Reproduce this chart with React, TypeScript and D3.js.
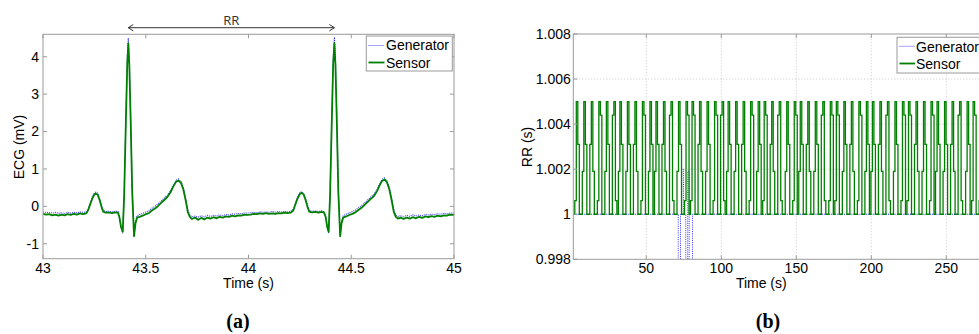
import React from "react";
import * as d3 from "d3";

// ---------- (a) ECG data ----------
const ecgTime = [
  43.000, 43.015, 43.030, 43.045, 43.060, 43.075, 43.090, 43.105, 43.120, 43.135, 43.150, 43.165, 43.180, 43.195, 43.210,
  43.220, 43.230, 43.240, 43.250, 43.258, 43.266, 43.275, 43.285, 43.293,
  43.305, 43.320, 43.335, 43.350, 43.365, 43.372, 43.380, 43.388,
  43.395, 43.403, 43.410, 43.415, 43.420, 43.427, 43.434, 43.443, 43.450, 43.458,
  43.470, 43.485, 43.500, 43.515, 43.530, 43.545, 43.560, 43.575, 43.590, 43.605, 43.620, 43.635, 43.648, 43.660, 43.672, 43.683, 43.695, 43.705, 43.715, 43.725,
  43.740, 43.755, 43.770, 43.785, 43.800, 43.815, 43.830, 43.845, 43.860, 43.875, 43.890, 43.905, 43.920, 43.935, 43.950, 43.965, 43.980, 43.995,
  44.010, 44.025, 44.040, 44.055, 44.070, 44.085, 44.100, 44.115, 44.130, 44.145, 44.160, 44.175, 44.190, 44.205,
  44.218, 44.228, 44.238, 44.250, 44.259, 44.268, 44.278, 44.287, 44.295,
  44.310, 44.325, 44.340, 44.355, 44.368, 44.376, 44.383, 44.390,
  44.397, 44.405, 44.412, 44.418, 44.423, 44.430, 44.437, 44.446, 44.453, 44.461,
  44.475, 44.490, 44.505, 44.520, 44.535, 44.550, 44.565, 44.580, 44.595, 44.610, 44.625, 44.638, 44.650, 44.662, 44.674, 44.685, 44.697, 44.707, 44.717, 44.727,
  44.740, 44.755, 44.770, 44.785, 44.800, 44.815, 44.830, 44.845, 44.860, 44.875, 44.890, 44.905, 44.920, 44.935, 44.950, 44.965, 44.980, 45.000,
];

const ecgSensor = [
  -0.20, -0.22, -0.21, -0.24, -0.22, -0.25, -0.22, -0.24, -0.21, -0.23, -0.20, -0.22, -0.19, -0.21, -0.19,
  -0.10, 0.06, 0.21, 0.32, 0.34, 0.31, 0.18, -0.02, -0.14,
  -0.17, -0.16, -0.18, -0.16, -0.17, -0.30, -0.56, -0.68,
  0.30, 2.20, 3.80, 4.36, 3.80, 2.20, 0.40, -0.80, -0.46, -0.30,
  -0.28, -0.25, -0.21, -0.18, -0.11, -0.06, 0.01, 0.09, 0.17, 0.25, 0.37, 0.54, 0.66, 0.69, 0.62, 0.45, 0.14, -0.16, -0.28, -0.34,
  -0.30, -0.36, -0.31, -0.35, -0.30, -0.33, -0.29, -0.32, -0.28, -0.30, -0.27, -0.28, -0.25, -0.27, -0.24, -0.25, -0.22, -0.23,
  -0.22, -0.20, -0.21, -0.19, -0.20, -0.18, -0.20, -0.19, -0.20, -0.18, -0.19, -0.17, -0.18, -0.17,
  -0.11, 0.05, 0.20, 0.33, 0.36, 0.32, 0.17, -0.01, -0.14,
  -0.16, -0.15, -0.17, -0.15, -0.17, -0.30, -0.55, -0.68,
  0.30, 2.20, 3.80, 4.36, 3.80, 2.20, 0.40, -0.80, -0.45, -0.30,
  -0.27, -0.23, -0.20, -0.16, -0.10, -0.04, 0.04, 0.12, 0.20, 0.27, 0.40, 0.56, 0.68, 0.72, 0.64, 0.46, 0.15, -0.15, -0.28, -0.33,
  -0.30, -0.34, -0.30, -0.33, -0.29, -0.32, -0.28, -0.31, -0.27, -0.29, -0.26, -0.28, -0.25, -0.27, -0.24, -0.25, -0.22, -0.23,
];

const ecgGenerator = [
  -0.15, -0.16, -0.17, -0.18, -0.16, -0.19, -0.17, -0.19, -0.16, -0.18, -0.16, -0.17, -0.15, -0.16, -0.15,
  -0.08, 0.09, 0.25, 0.36, 0.38, 0.35, 0.22, 0.02, -0.11,
  -0.14, -0.13, -0.15, -0.13, -0.14, -0.28, -0.55, -0.72,
  0.35, 2.30, 3.95, 4.50, 3.95, 2.30, 0.45, -0.78, -0.42, -0.25,
  -0.22, -0.19, -0.15, -0.12, -0.05, 0.00, 0.07, 0.14, 0.22, 0.30, 0.42, 0.58, 0.70, 0.73, 0.66, 0.50, 0.20, -0.10, -0.24, -0.28,
  -0.26, -0.29, -0.25, -0.28, -0.24, -0.27, -0.24, -0.26, -0.23, -0.25, -0.22, -0.23, -0.20, -0.21, -0.19, -0.20, -0.18, -0.18,
  -0.17, -0.16, -0.17, -0.15, -0.16, -0.15, -0.16, -0.14, -0.16, -0.14, -0.15, -0.14, -0.15, -0.14,
  -0.08, 0.08, 0.24, 0.37, 0.39, 0.35, 0.21, 0.03, -0.11,
  -0.13, -0.12, -0.14, -0.12, -0.14, -0.28, -0.56, -0.72,
  0.35, 2.30, 3.95, 4.52, 3.95, 2.30, 0.45, -0.77, -0.41, -0.25,
  -0.21, -0.17, -0.14, -0.10, -0.04, 0.02, 0.09, 0.17, 0.25, 0.32, 0.45, 0.60, 0.72, 0.76, 0.68, 0.51, 0.21, -0.09, -0.23, -0.27,
  -0.25, -0.28, -0.24, -0.27, -0.23, -0.26, -0.23, -0.25, -0.22, -0.23, -0.21, -0.22, -0.20, -0.21, -0.19, -0.20, -0.18, -0.18,
];

const ecgXTicks = [43, 43.5, 44, 44.5, 45];
const ecgXTickLabels = ["43", "43.5", "44", "44.5", "45"];
const ecgYTicks = [-1, 0, 1, 2, 3, 4];
const rrAnnotation = [43.415, 44.418];

// ---------- (b) RR data ----------
const rrStart = 1.33;
const sensorRR = [
  1, 1.0006, 1.005, 1.0031,
  1, 1, 1.0019, 1.005, 1.0031,
  1, 1, 1.0031, 1.005, 1.0019,
  1, 1, 1.0006, 1.005, 1.0044,
  1, 1, 1.0019, 1.005, 1.0031,
  1, 1, 1.0044, 1.005, 1.0006,
  1, 1.0019, 1.005, 1.0031,
  1, 1, 1.0019, 1.005, 1.0031,
  1, 1, 1.0031, 1.005, 1.0019,
  1, 1, 1.0006, 1.005, 1.0044,
  1, 1, 1.0019, 1.005, 1.0031,
  1, 1.0019, 1.005, 1.0031,
  1, 1, 1.0031, 1.005, 1.0019,
  1, 1, 1.0044, 1.005, 1.0006,
  1, 1, 1.0019, 1.005, 1.0031,
  1, 1, 1.0006, 1.005, 1.0044,
  1, 1.0006, 1.005, 1.0044,
  1, 1, 1.0031, 1.005, 1.0019,
  1, 1, 1.0019, 1.005, 1.0031,
  1, 1, 1.0006, 1.005, 1.0044,
  1, 1, 1.0044, 1.005, 1.0006,
  1, 1.0019, 1.005, 1.0031,
  1, 1, 1.0019, 1.005, 1.0031,
  1, 1, 1.0031, 1.005, 1.0019,
  1, 1, 1.0006, 1.005, 1.0044,
  1, 1, 1.0019, 1.005, 1.0031,
  1, 1.0006, 1.005, 1.0044,
  1, 1, 1.0031, 1.005, 1.0019,
  1, 1, 1.0044, 1.005, 1.0006,
  1, 1, 1.0019, 1.005, 1.0031,
  1, 1, 1.0006, 1.005, 1.0044,
  1, 1.0019, 1.005, 1.0031,
  1, 1, 1.0031, 1.005, 1.0019,
  1, 1, 1.0019, 1.005, 1.0031,
  1, 1, 1.0044, 1.005, 1.0006,
  1, 1, 1.0006, 1.005, 1.0044,
  1, 1.0006, 1.005, 1.0044,
  1, 1, 1.0019, 1.005, 1.0031,
  1, 1, 1.0031, 1.005, 1.0019,
  1, 1, 1.0006, 1.005, 1.0044,
  1, 1, 1.0019, 1.005, 1.0031,
  1, 1.0019, 1.005, 1.0031,
  1, 1, 1.0031, 1.005, 1.0019,
  1, 1, 1.0044, 1.005, 1.0006,
  1, 1, 1.0019, 1.005, 1.0031,
  1, 1, 1.0006, 1.005, 1.0044,
  1, 1.0006, 1.005, 1.0044,
  1, 1, 1.0031, 1.005, 1.0019,
  1, 1, 1.0019, 1.005, 1.0031,
  1, 1, 1.0006, 1.005, 1.0044,
  1, 1.0019, 1.005, 1.0031,
  1, 1, 1.0019, 1.005, 1.0031,
  1, 1, 1.0031, 1.005, 1.0019,
  1, 1, 1.0044, 1.005, 1.0006,
  1, 1, 1.0019, 1.005, 1.0031,
  1, 1.0006, 1.005, 1.0044,
  1, 1, 1.0006, 1.005, 1.0044,
];

const generatorTime = [1.33, 71.3, 72.8, 73.6, 74.8, 76.3, 77.6, 78.6, 80.8, 276];
const generatorRR = [1, 0.9965, 1, 1.002, 1, 0.9965, 1.0019, 0.9965, 1, 1];

const rrXTicks = [50, 100, 150, 200, 250];
const rrYTicks = [0.998, 1, 1.002, 1.004, 1.006, 1.008];
const rrYTickLabels = ["0.998", "1", "1.002", "1.004", "1.006", "1.008"];

const legendLabels = ["Generator", "Sensor"];

const FONT = "'Liberation Sans', Arial, Helvetica, sans-serif";
const FRAME = "#9a9a9a";
const GREEN = "#008000";
const BLUE = "#0000ff";

export default function App() {
  // ----- scales -----
  const ex = d3.scaleLinear().domain([43, 45]).range([43, 454]);
  const ey = d3.scaleLinear().domain([-1.4, 4.6]).range([258.7, 34.3]);
  const rx = d3.scaleLinear().domain([1.33, 276]).range([573.3, 985.3]);
  const ry = d3.scaleLinear().domain([0.998, 1.008]).range([259.3, 34]);

  const ecgLine = (vals: number[]) =>
    d3.line<number>().x((_, i) => ex(ecgTime[i])).y((v) => ey(v))(vals) || "";

  // sensor beat times: cumulative RR from start
  const beatTimes = d3.cumsum([rrStart, ...sensorRR]);
  const sensorPts: [number, number][] = Array.from(beatTimes, (t, i) => [
    t,
    sensorRR[Math.min(i, sensorRR.length - 1)],
  ]);
  const stepLine = d3
    .line<[number, number]>()
    .x((d) => rx(d[0]))
    .y((d) => ry(d[1]))
    .curve(d3.curveStepAfter);
  const sensorPath = stepLine(sensorPts) || "";
  const genPath = stepLine(generatorTime.map((t, i) => [t, generatorRR[i]] as [number, number])) || "";

  const [ex0, ex1] = ex.range();
  const [ey0, ey1] = ey.range();
  const [rx0, rx1] = rx.range();
  const [ry0, ry1] = ry.range();
  const tickLen = 4;

  return (
    <svg
      width={979}
      height={334}
      style={{ position: "absolute", left: 0, top: 0, background: "#fff" }}
      fontFamily={FONT}
    >
      <defs>
        <clipPath id="clipA">
          <rect x={ex0} y={ey1} width={ex1 - ex0} height={ey0 - ey1} />
        </clipPath>
        <clipPath id="clipB">
          <rect x={rx0} y={ry1} width={rx1 - rx0} height={ry0 - ry1} />
        </clipPath>
      </defs>

      {/* ================= (a) ================= */}
      <g>
        <rect x={ex0} y={ey1} width={ex1 - ex0} height={ey0 - ey1} fill="#fff" stroke="none" />
        <g clipPath="url(#clipA)">
          <path d={ecgLine(ecgGenerator)} fill="none" stroke={BLUE} strokeWidth={1.1} strokeDasharray="1 1" opacity={0.8} />
          <path d={ecgLine(ecgSensor)} fill="none" stroke={GREEN} strokeWidth={1.8} strokeLinejoin="round" />
        </g>
        <rect x={ex0} y={ey1} width={ex1 - ex0} height={ey0 - ey1} fill="none" stroke={FRAME} strokeWidth={1} />
        {ecgXTicks.map((t, i) => (
          <g key={"ext" + i}>
            <line x1={ex(t)} x2={ex(t)} y1={ey0} y2={ey0 - tickLen} stroke={FRAME} />
            <line x1={ex(t)} x2={ex(t)} y1={ey1} y2={ey1 + tickLen} stroke={FRAME} />
            <text x={ex(t)} y={273} fontSize={14} textAnchor="middle" fill="#000">
              {ecgXTickLabels[i]}
            </text>
          </g>
        ))}
        {ecgYTicks.map((v, i) => (
          <g key={"eyt" + i}>
            <line x1={ex0} x2={ex0 + tickLen} y1={ey(v)} y2={ey(v)} stroke={FRAME} />
            <line x1={ex1} x2={ex1 - tickLen} y1={ey(v)} y2={ey(v)} stroke={FRAME} />
            <text x={ex0 - 4} y={ey(v)} dy="0.35em" fontSize={14} textAnchor="end" fill="#000">
              {String(v)}
            </text>
          </g>
        ))}
        <text x={(ex0 + ex1) / 2} y={288} fontSize={14} textAnchor="middle" fill="#000">
          Time (s)
        </text>
        <text transform={`translate(24,147) rotate(-90)`} fontSize={14} textAnchor="middle" fill="#000">
          ECG (mV)
        </text>

        {/* RR annotation */}
        <g stroke="#333" strokeWidth={1} fill="none">
          <line x1={ex(rrAnnotation[0])} x2={ex(rrAnnotation[1])} y1={27.7} y2={27.7} />
          <polyline points={`${ex(rrAnnotation[0]) + 5},24.5 ${ex(rrAnnotation[0])},27.7 ${ex(rrAnnotation[0]) + 5},30.9`} />
          <polyline points={`${ex(rrAnnotation[1]) - 5},24.5 ${ex(rrAnnotation[1])},27.7 ${ex(rrAnnotation[1]) - 5},30.9`} />
        </g>
        <text
          x={(ex(rrAnnotation[0]) + ex(rrAnnotation[1])) / 2}
          y={24.5}
          fontSize={13}
          textAnchor="middle"
          fill="#333"
          fontFamily="'Open Sans', 'Noto Sans', sans-serif"
        >
          RR
        </text>

        {/* legend */}
        <rect x={366.3} y={36} width={86} height={35} fill="#fff" stroke={FRAME} />
        <line x1={368.5} x2={384.5} y1={45.5} y2={45.5} stroke={BLUE} strokeWidth={1} strokeDasharray="1 1" opacity={0.7} />
        <line x1={368.5} x2={384.5} y1={62.5} y2={62.5} stroke={GREEN} strokeWidth={1.8} />
        <text x={386} y={50.3} fontSize={14} fill="#000">{legendLabels[0]}</text>
        <text x={386} y={67.5} fontSize={14} fill="#000">{legendLabels[1]}</text>

        <text x={238} y={328} fontSize={20} fontWeight="bold" textAnchor="middle" fontFamily="'Liberation Serif', 'DejaVu Serif', serif" fill="#000">
          (a)
        </text>
      </g>

      {/* ================= (b) ================= */}
      <g>
        <rect x={rx0} y={ry1} width={rx1 - rx0} height={ry0 - ry1} fill="#fff" stroke="none" />
        {/* grid */}
        {rrXTicks.map((t, i) => (
          <line key={"gx" + i} x1={rx(t)} x2={rx(t)} y1={ry0} y2={ry1} stroke="#bdbdbd" strokeWidth={0.8} strokeDasharray="1 2" />
        ))}
        {rrYTicks.slice(1, -1).map((v, i) => (
          <line key={"gy" + i} x1={rx0} x2={rx1} y1={ry(v)} y2={ry(v)} stroke="#bdbdbd" strokeWidth={0.8} strokeDasharray="1 2" />
        ))}
        <g clipPath="url(#clipB)">
          <path d={genPath} fill="none" stroke={BLUE} strokeWidth={1} strokeDasharray="1 1.2" opacity={0.8} />
          <path d={sensorPath} fill="none" stroke={GREEN} strokeWidth={1.3} />
        </g>
        <rect x={rx0} y={ry1} width={rx1 - rx0} height={ry0 - ry1} fill="none" stroke={FRAME} strokeWidth={1} />
        {rrXTicks.map((t, i) => (
          <g key={"rxt" + i}>
            <line x1={rx(t)} x2={rx(t)} y1={ry0} y2={ry0 - tickLen} stroke={FRAME} />
            <line x1={rx(t)} x2={rx(t)} y1={ry1} y2={ry1 + tickLen} stroke={FRAME} />
            <text x={rx(t)} y={273} fontSize={14} textAnchor="middle" fill="#000">
              {String(t)}
            </text>
          </g>
        ))}
        {rrYTicks.map((v, i) => (
          <g key={"ryt" + i}>
            <line x1={rx0} x2={rx0 + tickLen} y1={ry(v)} y2={ry(v)} stroke={FRAME} />
            <text x={rx0 - 2.5} y={ry(v)} dy="0.35em" fontSize={14} textAnchor="end" fill="#000">
              {rrYTickLabels[i]}
            </text>
          </g>
        ))}
        <text x={(rx0 + rx1) / 2 - 18} y={288} fontSize={14} textAnchor="middle" fill="#000">
          Time (s)
        </text>
        <text transform={`translate(532,147) rotate(-90)`} fontSize={14} textAnchor="middle" fill="#000">
          RR (s)
        </text>

        {/* legend */}
        <rect x={897} y={37.3} width={86} height={35.7} fill="#fff" stroke={FRAME} />
        <line x1={899.5} x2={915} y1={46.3} y2={46.3} stroke={BLUE} strokeWidth={1} strokeDasharray="1 1" opacity={0.7} />
        <line x1={899.5} x2={915} y1={63.5} y2={63.5} stroke={GREEN} strokeWidth={1.8} />
        <text x={916} y={51.5} fontSize={14} fill="#000">{legendLabels[0]}</text>
        <text x={916} y={69} fontSize={14} fill="#000">{legendLabels[1]}</text>

        <text x={768} y={328} fontSize={20} fontWeight="bold" textAnchor="middle" fontFamily="'Liberation Serif', 'DejaVu Serif', serif" fill="#000">
          (b)
        </text>
      </g>
    </svg>
  );
}
